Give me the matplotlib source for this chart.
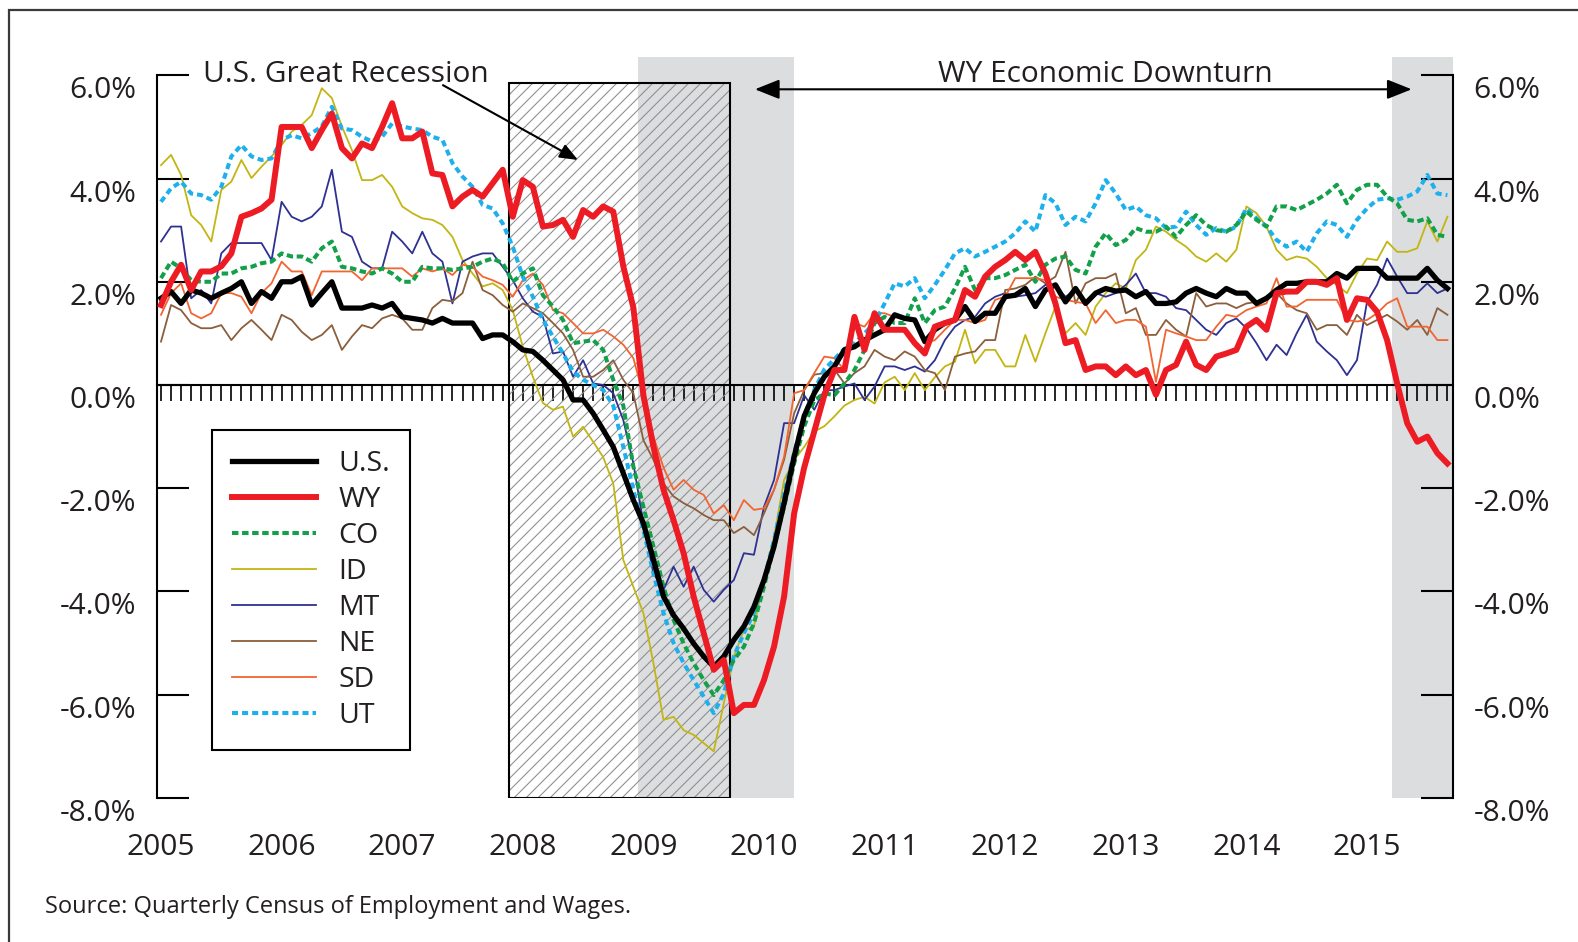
import numpy as np
import matplotlib
matplotlib.use("Agg")
import matplotlib.pyplot as plt
from matplotlib.patches import Rectangle
from matplotlib.lines import Line2D
from matplotlib.transforms import ScaledTranslation, IdentityTransform

plt.rcParams['font.family'] = ['Open Sans', 'DejaVu Sans']
TXT = '#231f20'

# ---------------- data (monthly, Jan 2005 - Sep 2015, % over-the-year change) -------------
START = 2005
us = [1.68, 1.81, 1.58, 1.84, 1.78, 1.68, 1.78, 1.87, 2.00, 1.58, 1.81, 1.68,
      2.00, 2.00, 2.10, 1.55, 1.78, 2.00, 1.49, 1.49, 1.49, 1.55, 1.49, 1.58,
      1.32, 1.29, 1.26, 1.20, 1.29, 1.20, 1.20, 1.20, 0.90, 0.97, 0.97, 0.84,
      0.68, 0.65, 0.48, 0.29, 0.10, -0.29, -0.29, -0.55, -0.87, -1.20, -1.71, -2.23,
      -2.68, -3.39, -4.10, -4.46, -4.72, -5.01, -5.26, -5.46, -5.26, -4.94, -4.68, -4.30,
      -3.78, -3.13, -2.29, -1.39, -0.60, -0.16, 0.16, 0.36, 0.68, 0.74, 0.87, 0.97,
      1.07, 1.36, 1.29, 1.26, 0.84, 1.07, 1.20, 1.26, 1.52, 1.23, 1.39, 1.39,
      1.71, 1.74, 1.87, 1.52, 1.84, 1.94, 1.61, 1.87, 1.58, 1.78, 1.87, 1.82,
      1.84, 1.71, 1.81, 1.58, 1.58, 1.61, 1.78, 1.87, 1.78, 1.71, 1.87, 1.78,
      1.78, 1.58, 1.68, 1.84, 1.97, 1.97, 2.00, 2.00, 2.00, 2.16, 2.07, 2.26,
      2.26, 2.26, 2.07, 2.07, 2.07, 2.07, 2.26, 2.03, 1.87]
wy = [1.55, 2.00, 2.33, 1.84, 2.20, 2.20, 2.30, 2.55, 3.26, 3.33, 3.42, 3.59,
      5.00, 5.00, 5.00, 4.59, 4.94, 5.26, 4.59, 4.39, 4.68, 4.59, 5.00, 5.46,
      4.78, 4.78, 4.91, 4.10, 4.07, 3.46, 3.65, 3.78, 3.65, 3.91, 4.17, 3.26,
      3.97, 3.84, 3.07, 3.10, 3.20, 2.87, 3.39, 3.26, 3.46, 3.36, 2.30, 1.50,
      -0.20, -1.20, -2.03, -2.62, -3.26, -4.10, -4.81, -5.52, -5.33, -6.36, -6.20, -6.20,
      -5.72, -5.07, -4.10, -2.49, -1.60, -0.90, -0.20, 0.29, 0.29, 1.32, 0.68, 1.39,
      1.07, 1.07, 1.07, 0.81, 0.61, 1.13, 1.20, 1.26, 1.84, 1.71, 2.10, 2.29,
      2.42, 2.58, 2.42, 2.58, 2.16, 1.58, 0.81, 0.87, 0.29, 0.36, 0.36, 0.19,
      0.36, 0.19, 0.29, -0.19, 0.29, 0.39, 0.84, 0.39, 0.29, 0.55, 0.61, 0.68,
      1.13, 1.26, 1.07, 1.78, 1.81, 1.81, 2.00, 2.00, 1.94, 2.07, 1.26, 1.68,
      1.65, 1.42, 0.87, 0.03, -0.74, -1.10, -1.00, -1.32, -1.52]
co = [2.07, 2.39, 2.26, 2.03, 2.00, 2.00, 2.16, 2.16, 2.26, 2.29, 2.36, 2.39,
      2.55, 2.49, 2.49, 2.39, 2.65, 2.78, 2.29, 2.26, 2.20, 2.16, 2.26, 2.16,
      2.00, 2.00, 2.29, 2.26, 2.26, 2.23, 2.26, 2.29, 2.39, 2.45, 2.36, 2.00,
      2.16, 2.26, 1.74, 1.52, 1.26, 0.81, 0.84, 0.87, 0.68, 0.10, -0.40, -1.58,
      -2.36, -3.13, -3.91, -4.55, -5.01, -5.39, -5.72, -6.01, -5.72, -5.33, -5.07, -4.62,
      -3.91, -3.13, -2.36, -1.52, -0.80, -0.30, -0.16, -0.20, 0.03, 0.29, 0.68, 1.20,
      1.32, 1.20, 1.20, 1.68, 1.20, 1.45, 1.52, 1.87, 2.29, 1.84, 2.07, 2.07,
      2.13, 2.23, 2.33, 2.00, 2.33, 2.45, 2.49, 2.23, 2.16, 2.68, 2.94, 2.71,
      2.81, 3.04, 2.97, 2.97, 3.07, 2.87, 3.10, 3.29, 3.10, 3.00, 2.97, 3.10,
      3.36, 3.20, 3.07, 3.46, 3.46, 3.39, 3.49, 3.59, 3.71, 3.88, 3.52, 3.78,
      3.88, 3.88, 3.65, 3.52, 3.20, 3.17, 3.23, 2.91, 2.87]
id_ = [4.26, 4.46, 4.07, 3.29, 3.10, 2.78, 3.78, 3.94, 4.36, 4.01, 4.23, 4.43,
       4.65, 4.91, 5.04, 5.23, 5.75, 5.56, 5.01, 4.55, 3.97, 3.97, 4.07, 3.84,
       3.46, 3.33, 3.23, 3.20, 3.10, 2.87, 2.42, 2.16, 1.91, 1.97, 1.84, 1.45,
       0.74, 0.16, -0.35, -0.48, -0.42, -1.00, -0.81, -1.10, -1.40, -1.91, -3.39, -3.91,
       -4.42, -5.39, -6.49, -6.43, -6.69, -6.78, -6.94, -7.10, -6.17, -5.26, -4.75, -4.68,
       -3.78, -2.94, -1.84, -1.45, -1.20, -0.90, -0.80, -0.61, -0.40, -0.29, -0.23, -0.36,
       0.05, 0.16, -0.10, 0.23, -0.10, 0.15, 0.36, 0.45, 1.07, 0.42, 0.68, 0.68,
       0.36, 0.36, 0.97, 0.45, 1.00, 1.52, 1.00, 1.20, 0.97, 1.52, 1.78, 1.97,
       1.87, 2.42, 2.62, 3.07, 2.97, 2.81, 2.68, 2.49, 2.39, 2.55, 2.39, 2.62,
       3.46, 3.33, 3.07, 2.62, 2.42, 2.49, 2.45, 2.29, 2.07, 1.94, 1.78, 2.16,
       2.45, 2.42, 2.78, 2.58, 2.58, 2.65, 3.17, 2.78, 3.26]
mt = [2.78, 3.07, 3.07, 1.68, 1.84, 1.58, 2.55, 2.75, 2.75, 2.75, 2.75, 2.42,
      3.55, 3.26, 3.17, 3.26, 3.46, 4.17, 2.97, 2.87, 2.39, 2.26, 2.26, 2.97,
      2.78, 2.55, 2.97, 2.55, 2.39, 1.58, 2.39, 2.49, 2.55, 2.55, 2.29, 2.03,
      1.68, 1.42, 1.32, 0.61, 0.65, 0.16, 0.48, 0.03, 0.00, -0.16, -0.68, -1.52,
      -2.68, -3.65, -3.97, -3.52, -3.91, -3.52, -3.97, -4.20, -3.97, -3.78, -3.26, -3.29,
      -2.36, -1.84, -0.74, -0.74, -0.20, -0.48, -0.10, -0.10, -0.03, 0.03, -0.29, -0.03,
      0.36, 0.36, 0.29, 0.36, 0.26, 0.48, 0.87, 1.13, 1.26, 1.32, 1.58, 1.71,
      1.78, 1.71, 1.74, 1.78, 1.94, 1.91, 1.71, 1.84, 1.58, 1.78, 1.71, 1.78,
      1.94, 2.16, 1.78, 1.78, 1.71, 1.49, 1.45, 1.26, 1.07, 0.97, 1.20, 1.29,
      1.10, 0.81, 0.48, 0.78, 0.58, 1.00, 1.36, 0.84, 0.65, 0.48, 0.19, 0.48,
      1.61, 1.94, 2.45, 2.10, 1.78, 1.78, 1.97, 1.78, 1.87]
ne = [0.84, 1.55, 1.45, 1.20, 1.10, 1.10, 1.16, 0.87, 1.10, 1.26, 1.07, 0.87,
      1.36, 1.26, 1.03, 0.87, 0.97, 1.16, 0.68, 0.94, 1.16, 1.10, 1.29, 1.36,
      1.29, 1.07, 1.07, 1.49, 1.65, 1.62, 1.78, 2.39, 1.84, 1.74, 1.55, 1.42,
      1.58, 1.49, 1.39, 1.20, 1.00, 0.68, 0.16, 0.16, 0.29, 0.48, 0.10, -0.16,
      -1.07, -1.45, -1.91, -2.16, -2.29, -2.39, -2.52, -2.62, -2.62, -2.87, -2.75, -2.91,
      -2.49, -2.03, -1.45, -0.55, -0.10, 0.20, 0.23, 0.30, 0.03, 0.23, 0.36, 0.68,
      0.55, 0.48, 0.65, 0.55, 0.29, 0.23, -0.10, 0.55, 0.61, 0.65, 0.87, 0.87,
      1.84, 1.87, 1.94, 2.10, 1.97, 2.10, 2.58, 1.58, 1.97, 2.07, 2.07, 2.16,
      1.39, 1.49, 0.97, 0.97, 1.26, 1.07, 0.94, 1.78, 1.52, 1.58, 1.58, 1.49,
      1.58, 1.61, 1.71, 1.78, 1.58, 1.45, 1.39, 1.07, 1.16, 1.16, 0.97, 1.36,
      1.16, 1.26, 1.36, 1.23, 1.07, 1.26, 0.97, 1.49, 1.36]
sd = [1.36, 1.78, 1.97, 1.39, 1.29, 1.39, 1.78, 1.78, 1.71, 1.39, 1.78, 1.97,
      2.39, 2.20, 2.20, 1.74, 2.20, 2.20, 2.20, 2.20, 2.03, 2.26, 2.26, 2.26,
      2.26, 2.10, 2.26, 2.20, 2.26, 2.13, 2.33, 2.29, 2.10, 2.03, 1.94, 1.71,
      2.03, 2.16, 1.94, 1.45, 1.39, 1.20, 1.00, 1.00, 1.07, 0.94, 0.78, 0.52,
      -0.20, -1.00, -1.60, -2.03, -1.84, -2.03, -2.13, -2.49, -2.33, -2.62, -2.23, -2.42,
      -2.39, -2.03, -1.39, -0.16, -0.10, 0.23, 0.55, 0.52, 0.29, 1.20, 1.13, 1.39,
      1.39, 1.32, 1.26, 1.26, 0.81, 0.87, 1.07, 1.26, 1.26, 1.20, 1.26, 1.65,
      1.71, 2.07, 2.07, 2.07, 2.03, 1.71, 1.65, 1.61, 1.58, 1.20, 1.45, 1.20,
      1.26, 1.26, 1.13, 0.06, 1.07, 1.00, 0.94, 0.87, 0.87, 1.13, 1.36, 1.32,
      1.45, 1.52, 1.58, 2.07, 1.52, 1.52, 1.65, 1.65, 1.65, 1.65, 1.26, 1.23,
      1.26, 1.39, 1.58, 1.68, 1.13, 1.13, 1.13, 0.87, 0.87]
ut = [3.55, 3.81, 3.94, 3.71, 3.68, 3.59, 3.84, 4.43, 4.65, 4.43, 4.36, 4.39,
      4.75, 4.84, 4.78, 4.88, 5.01, 5.39, 4.97, 4.94, 4.81, 4.72, 4.81, 5.07,
      5.01, 4.97, 4.94, 4.81, 4.75, 4.30, 4.04, 3.84, 3.49, 3.42, 3.13, 2.68,
      2.10, 1.71, 1.26, 0.94, 0.61, 0.26, 0.10, 0.00, -0.10, -0.40, -1.20, -2.03,
      -2.81, -3.65, -4.42, -5.00, -5.39, -5.72, -6.04, -6.36, -5.98, -5.26, -4.81, -4.42,
      -3.78, -3.00, -2.10, -1.32, -0.60, -0.10, 0.30, 0.50, 0.70, 0.81, 1.00, 1.20,
      1.58, 1.97, 1.91, 2.07, 1.68, 1.94, 2.23, 2.55, 2.65, 2.49, 2.58, 2.68,
      2.78, 2.94, 3.17, 2.97, 3.68, 3.52, 3.10, 3.26, 3.17, 3.52, 3.97, 3.71,
      3.39, 3.46, 3.29, 3.23, 3.04, 3.07, 3.36, 3.10, 2.91, 3.04, 2.97, 3.07,
      3.42, 3.23, 3.07, 2.81, 2.68, 2.78, 2.58, 2.94, 3.17, 3.10, 2.87, 3.20,
      3.42, 3.59, 3.62, 3.59, 3.65, 3.75, 4.07, 3.71, 3.68]

series_names = ["U.S.", "WY", "CO", "ID", "MT", "NE", "SD", "UT"]
series_values = [us, wy, co, id_, mt, ne, sd, ut]

y_ticks = [-8, -6, -4, -2, 0, 2, 4, 6]
y_tick_labels = ["-8.0%", "-6.0%", "-4.0%", "-2.0%", "0.0%", "2.0%", "4.0%", "6.0%"]
year_ticks = list(range(2005, 2016))
year_labels = [str(y) for y in year_ticks]

recession_box = (2007.888, 2009.718, 5.86)       # x0, x1, top (%)
downturn_spans = [(2008.953, 2010.249), (2015.21, 2015.711)]

# ---------------- styles ----------------
styles = {
    "U.S.": dict(color='black', lw=3.8, zorder=6),
    "WY":   dict(color='#ed1c24', lw=4.3, zorder=7),
    "CO":   dict(color='#12a04a', lw=2.9, dashes=(1.6, 0.9), zorder=5),
    "ID":   dict(color='#c3b512', lw=1.3, zorder=3),
    "MT":   dict(color='#2e3192', lw=1.3, zorder=3),
    "NE":   dict(color='#8b5e3c', lw=1.3, zorder=3),
    "SD":   dict(color='#f26531', lw=1.3, zorder=3),
    "UT":   dict(color='#1cb0ec', lw=2.9, dashes=(1.5, 1.0), zorder=4),
}

W, H = 1578, 942
fig = plt.figure(figsize=(W / 100, H / 100), dpi=100)
ax_l, ax_r, ax_b, ax_t = 157, 1452.7, 797.8, 57.3
ax = fig.add_axes([ax_l / W, 1 - ax_b / H, (ax_r - ax_l) / W, (ax_b - ax_t) / H])
px_per_year = 120.6
ax.set_xlim(START - (161 - ax_l) / px_per_year, START + (ax_r - 161) / px_per_year)
ax.set_ylim(-8, 6.35)

# shaded WY downturn periods
for a, b in downturn_spans:
    ax.axvspan(a, b, color='#dcdddf', lw=0, zorder=1)

# hatched U.S. recession box
rx0, rx1, rtop = recession_box
rect = Rectangle((rx0, -8), rx1 - rx0, rtop + 8, fill=False, ec='black', lw=1.5, zorder=2.4)
ax.add_patch(rect)
(p0x, p0y) = ax.transData.transform((rx0, -8))
(p1x, p1y) = ax.transData.transform((rx1, rtop))
hh = p1y - p0y
for c in np.arange(p0x - hh, p1x + 12, 12.0):
    hl = Line2D([c, c + hh], [p0y, p1y], transform=IdentityTransform(),
                color='#8a8c8f', lw=0.75, zorder=2.2)
    ax.add_artist(hl)
    hl.set_clip_path(rect.get_path(), rect.get_transform())

# data lines
for name, vals in zip(series_names, series_values):
    x = START + np.arange(len(vals)) / 12.0
    ax.plot(x, vals, label=name, **styles[name])

# spines & ticks
ax.spines['top'].set_visible(False)
for s in ['left', 'right']:
    ax.spines[s].set_bounds(-8, 6)
    ax.spines[s].set_linewidth(1.5)
ax.spines['bottom'].set_position(('data', 0))
ax.spines['bottom'].set_linewidth(1.5)

months = START + np.arange(len(us)) / 12.0
ax.set_xticks(months)
ax.tick_params(axis='x', direction='out', length=11.5, width=1.2, labelbottom=False, color='black')

ax.set_yticks(y_ticks, labels=y_tick_labels)
ax.tick_params(axis='y', direction='in', length=23, width=1.5, left=True, right=True,
               labelleft=True, labelright=True, labelsize=21.5, labelcolor=TXT, pad=15)
off = ScaledTranslation(0, -0.12, fig.dpi_scale_trans)
for t in ax.yaxis.get_major_ticks():
    t.label1.set_transform(t.label1.get_transform() + off)
    t.label2.set_transform(t.label2.get_transform() + off)

sec = ax.secondary_xaxis('bottom')
sec.set_xticks(year_ticks, labels=year_labels)
sec.tick_params(length=0, pad=25, labelsize=21.5, labelcolor=TXT)
sec.spines['bottom'].set_visible(False)

# annotations
ax.text(2005.348, 5.878, "U.S. Great Recession", fontsize=21.5, color=TXT,
        ha='left', va='baseline', clip_on=False, zorder=8)
ax.annotate("", xy=(2008.458, 4.36), xytext=(2007.338, 5.81),
            arrowprops=dict(arrowstyle='-|>,head_length=0.55,head_width=0.22', lw=1.5,
                            color='black', shrinkA=0, shrinkB=0, mutation_scale=20), zorder=8)
ax.text(2012.83, 5.878, "WY Economic Downturn", fontsize=21.5, color=TXT,
        ha='center', va='baseline', clip_on=False, zorder=8)
ax.annotate("", xy=(2009.925, 5.73), xytext=(2015.37, 5.73),
            arrowprops=dict(arrowstyle='<|-|>,head_length=0.75,head_width=0.3', lw=1.5,
                            color='black', shrinkA=0, shrinkB=0, mutation_scale=20), zorder=8)

# legend
leg = ax.legend(loc='upper left', bbox_to_anchor=(212 / W, 1 - 430 / H),
                bbox_transform=fig.transFigure, frameon=True, fancybox=False,
                framealpha=1, edgecolor='black', borderpad=0.7, borderaxespad=0,
                handlelength=2.95, handletextpad=0.78, labelspacing=0.28,
                prop={'size': 20.5})
leg.get_frame().set_linewidth(1.5)
for t in leg.get_texts():
    t.set_color(TXT)
leg.set_zorder(10)

# source + outer frame
fig.text(45.3 / W, 1 - 907 / H, "Source: Quarterly Census of Employment and Wages.",
         fontsize=17, color=TXT, ha='left', va='center')
fig.add_artist(Rectangle((9 / W, -0.05), 1.2, 1 - 10 / H + 0.05, transform=fig.transFigure,
                         fill=False, ec='#3a3a3a', lw=1.6))

fig.savefig("out.png", dpi=100)
